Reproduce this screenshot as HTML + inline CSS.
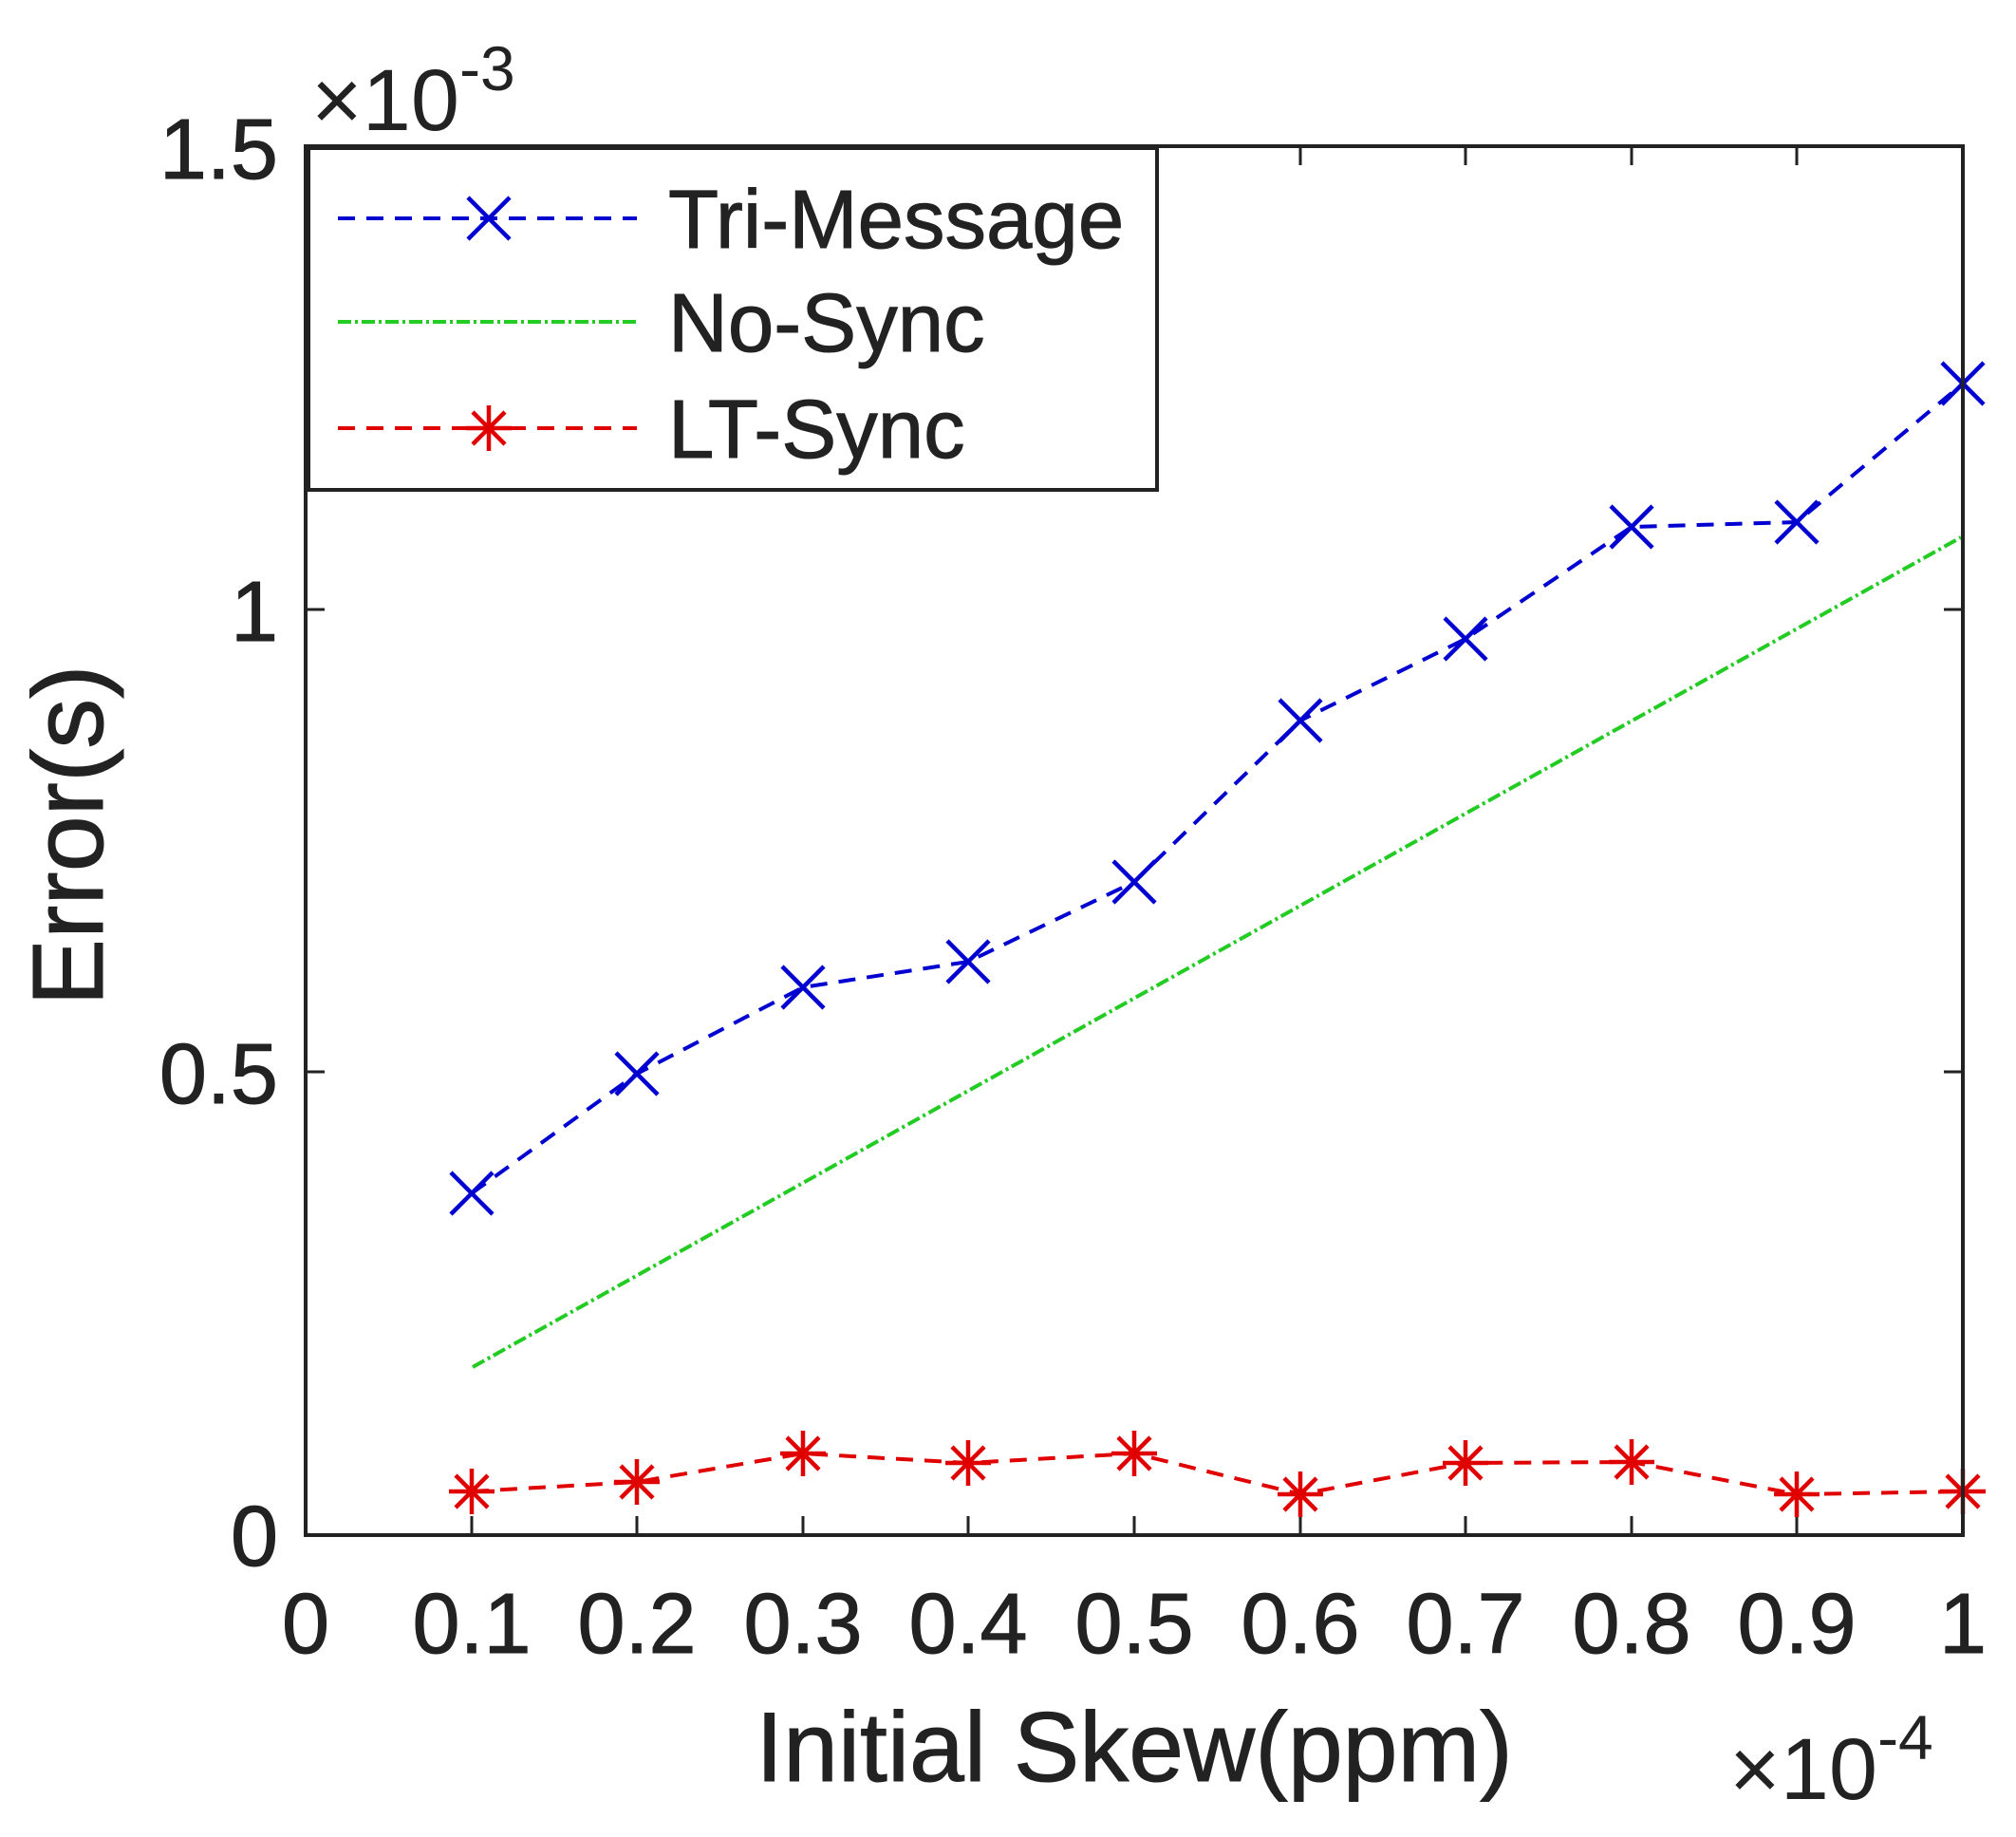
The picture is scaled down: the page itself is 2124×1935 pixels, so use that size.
<!DOCTYPE html>
<html><head><style>body{margin:0;background:#fff}svg{display:block}</style></head><body>
<svg width="2124" height="1935" xmlns="http://www.w3.org/2000/svg" font-family="Liberation Sans, Arial, sans-serif">
<defs>
<g id="xm"><path d="M-22,-22L22,22M-22,22L22,-22" stroke="#0000d0" stroke-width="4.5" fill="none"/></g>
<g id="st"><path d="M-24,0H24M0,-24V24M-17,-17L17,17M-17,17L17,-17" stroke="#e00000" stroke-width="4.5" fill="none"/></g>
</defs>
<g stroke="#222" stroke-width="3">
<path d="M497,1617v-20M671,1617v-20M846,1617v-20M1020,1617v-20M1195,1617v-20M1370,1617v-20M1544,1617v-20M1719,1617v-20M1893,1617v-20"/>
<path d="M497,154v20M671,154v20M846,154v20M1020,154v20M1195,154v20M1370,154v20M1544,154v20M1719,154v20M1893,154v20"/>
<path d="M322,1129h20M322,642h20M2068,1129h-20M2068,642h-20"/>
</g>
<polyline points="498,1440 2066,566" fill="none" stroke="#22cc22" stroke-width="4" stroke-dasharray="14,4,3,4"/>
<polyline points="497,1257 671,1131 846,1040 1020,1013 1195,929 1370,759 1544,673 1719,555 1893,550 2068,404" fill="none" stroke="#0000d0" stroke-width="4" stroke-dasharray="18,12"/>
<g>
<use href="#xm" x="497" y="1257"/><use href="#xm" x="671" y="1131"/><use href="#xm" x="846" y="1040"/><use href="#xm" x="1020" y="1013"/><use href="#xm" x="1195" y="929"/><use href="#xm" x="1370" y="759"/><use href="#xm" x="1544" y="673"/><use href="#xm" x="1719" y="555"/><use href="#xm" x="1893" y="550"/><use href="#xm" x="2068" y="404"/>
</g>
<polyline points="497,1571 671,1561 846,1531 1020,1541 1195,1531 1370,1574 1544,1541 1719,1540 1893,1574 2068,1571" fill="none" stroke="#e00000" stroke-width="4" stroke-dasharray="18,12"/>
<g>
<use href="#st" x="497" y="1571"/><use href="#st" x="671" y="1561"/><use href="#st" x="846" y="1531"/><use href="#st" x="1020" y="1541"/><use href="#st" x="1195" y="1531"/><use href="#st" x="1370" y="1574"/><use href="#st" x="1544" y="1541"/><use href="#st" x="1719" y="1540"/><use href="#st" x="1893" y="1574"/><use href="#st" x="2068" y="1571"/>
</g>
<rect x="322" y="154" width="1746" height="1463" fill="none" stroke="#222" stroke-width="4"/>
<rect x="325" y="156" width="894" height="360" fill="#fff" stroke="#222" stroke-width="4"/>
<path d="M356,230H671" stroke="#0000d0" stroke-width="4" stroke-dasharray="18,12"/>
<use href="#xm" x="515" y="230"/>
<path d="M356,339H671" stroke="#22cc22" stroke-width="4" stroke-dasharray="14,4,3,4"/>
<path d="M356,451H671" stroke="#e00000" stroke-width="4" stroke-dasharray="18,12"/>
<use href="#st" x="515" y="451"/>
<g font-size="87" fill="#222" stroke="#222" stroke-width="1">
<text x="704" y="261">Tri-Message</text>
<text x="704" y="370">No-Sync</text>
<text x="704" y="482">LT-Sync</text>
</g>
<g font-size="90" fill="#222" text-anchor="middle" stroke="#222" stroke-width="1">
<text x="322" y="1741">0</text><text x="497" y="1741">0.1</text><text x="671" y="1741">0.2</text><text x="846" y="1741">0.3</text><text x="1020" y="1741">0.4</text><text x="1195" y="1741">0.5</text><text x="1370" y="1741">0.6</text><text x="1544" y="1741">0.7</text><text x="1719" y="1741">0.8</text><text x="1893" y="1741">0.9</text><text x="2068" y="1741">1</text>
</g>
<g font-size="90" fill="#222" text-anchor="end" stroke="#222" stroke-width="1">
<text x="293" y="1649">0</text><text x="293" y="1162">0.5</text><text x="293" y="675">1</text><text x="293" y="188">1.5</text>
</g>
<text x="328" y="137" font-size="92" fill="#222">×<tspan font-size="92">10</tspan><tspan font-size="66" dy="-42">-3</tspan></text>
<text x="1822" y="1895" font-size="92" fill="#222">×<tspan font-size="92">10</tspan><tspan font-size="66" dy="-42">-4</tspan></text>
<text x="1195" y="1876" font-size="104" fill="#222" text-anchor="middle" stroke="#222" stroke-width="1">Initial Skew(ppm)</text>
<text transform="translate(108,880) rotate(-90)" font-size="106" fill="#222" text-anchor="middle" stroke="#222" stroke-width="1">Error(s)</text>
</svg>
</body></html>
